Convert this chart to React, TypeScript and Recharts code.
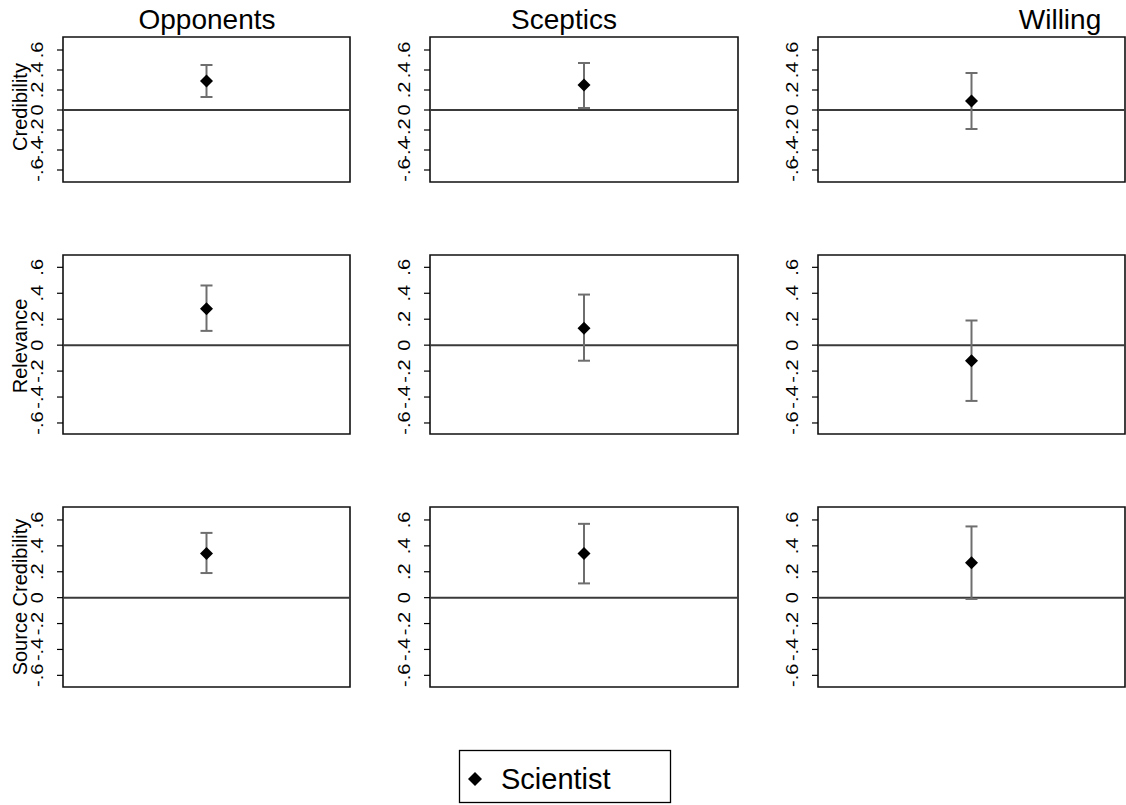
import React from 'react'
import { ScatterChart, Scatter, XAxis, YAxis, ErrorBar, ReferenceLine, ReferenceArea } from 'recharts'

const FONT = "'Liberation Sans', Arial, Helvetica, sans-serif"

const COLUMNS = ['Opponents', 'Sceptics', 'Willing']
const ROWS = ['Credibility', 'Relevance', 'Source Credibility']
const SERIES_NAME = 'Scientist'

// point estimates per outcome, in column order (Opponents, Sceptics, Willing)
const CREDIBILITY = [0.29, 0.25, 0.09]
const RELEVANCE = [0.28, 0.13, -0.12]
const SOURCE_CREDIBILITY = [0.34, 0.34, 0.27]

// confidence interval bounds
const CREDIBILITY_LO = [0.13, 0.02, -0.19]
const CREDIBILITY_HI = [0.45, 0.47, 0.37]
const RELEVANCE_LO = [0.11, -0.12, -0.43]
const RELEVANCE_HI = [0.46, 0.39, 0.19]
const SOURCE_CREDIBILITY_LO = [0.19, 0.11, -0.01]
const SOURCE_CREDIBILITY_HI = [0.50, 0.57, 0.55]

const Y_TICKS = [-0.6, -0.4, -0.2, 0, 0.2, 0.4, 0.6]
const Y_TICK_LABELS = ['-.6', '-.4', '-.2', '0', '.2', '.4', '.6']

const EST = [CREDIBILITY, RELEVANCE, SOURCE_CREDIBILITY]
const LO = [CREDIBILITY_LO, RELEVANCE_LO, SOURCE_CREDIBILITY_LO]
const HI = [CREDIBILITY_HI, RELEVANCE_HI, SOURCE_CREDIBILITY_HI]

// layout of the plot boxes
const COL_BOX = [
  { left: 63, width: 287, title: 207 },
  { left: 430, width: 308, title: 564 },
  { left: 818, width: 307, title: 1060 },
]
const ROW_BOX = [
  { top: 37, height: 145, domain: [-0.72, 0.73], label: 107 },
  { top: 255, height: 179, domain: [-0.685, 0.695], label: 346 },
  { top: 507, height: 180, domain: [-0.69, 0.7], label: 597 },
]
const AXIS_W = 63
const PAD = 3

// vertical text; stata's tick labels come out a bit narrower than Arial
function VText({ x, y, size, squeeze = 1, children }: { x: number; y: number; size: number; squeeze?: number; children: React.ReactNode }) {
  return (
    <text x={0} y={0} textAnchor="middle" transform={`translate(${x}, ${y}) rotate(-90) scale(1, ${squeeze})`}
      fontSize={size} fontFamily={FONT} fill="#000">
      {children}
    </text>
  )
}

function RotTick(props: any) {
  const { x, y, payload } = props
  const i = Y_TICKS.indexOf(payload.value)
  return <VText x={x - 14} y={y} size={20} squeeze={0.85}>{Y_TICK_LABELS[i] ?? payload.value}</VText>
}

function Diamond(props: any) {
  const { cx, cy } = props
  const s = 6.5
  return <polygon points={`${cx},${cy - s} ${cx + s},${cy} ${cx},${cy + s} ${cx - s},${cy}`} fill="#000" />
}

function Panel({ r, c }: { r: number; c: number }) {
  const col = COL_BOX[c]
  const row = ROW_BOX[r]
  const est = EST[r][c]
  const data = [{ x: 1, y: est, err: [est - LO[r][c], HI[r][c] - est] }]
  return (
    <div style={{ position: 'absolute', left: col.left - AXIS_W, top: row.top - PAD }}>
      <ScatterChart width={AXIS_W + col.width + PAD} height={row.height + 2 * PAD}
        margin={{ top: PAD, right: PAD, bottom: PAD, left: 0 }}>
        <XAxis type="number" dataKey="x" domain={[0, 2]} hide />
        <YAxis type="number" dataKey="y" domain={row.domain} allowDataOverflow ticks={Y_TICKS}
          interval={0} width={AXIS_W} tickSize={6} tickMargin={0} axisLine={false}
          tickLine={{ stroke: '#000', strokeWidth: 1.2 }} tick={<RotTick />} />
        <ReferenceArea x1={0} x2={2} y1={row.domain[0]} y2={row.domain[1]} fill="none"
          fillOpacity={0} stroke="#111" strokeWidth={1.6} ifOverflow="visible" />
        <ReferenceLine y={0} stroke="#3a3a3a" strokeWidth={2} />
        <Scatter data={data} fill="#000" isAnimationActive={false} shape={<Diamond />}>
          <ErrorBar dataKey="err" direction="y" width={6} stroke="#6e6e6e" strokeWidth={2} isAnimationActive={false} />
        </Scatter>
      </ScatterChart>
    </div>
  )
}

export default function App() {
  return (
    <div style={{ position: 'absolute', left: 0, top: 0, width: 1126, height: 805, background: '#fff', overflow: 'hidden' }}>
      <svg width={1126} height={805} style={{ position: 'absolute', left: 0, top: 0 }}>
        {COLUMNS.map((t, c) => (
          <text key={t} x={COL_BOX[c].title} y={29} textAnchor="middle" fontSize={28} fontFamily={FONT} fill="#000">{t}</text>
        ))}
        {ROWS.map((t, r) => (
          <VText key={t} x={27} y={ROW_BOX[r].label} size={20}>{t}</VText>
        ))}
        <rect x={459.5} y={750.5} width={211} height={52} fill="#fff" stroke="#000" strokeWidth={1.3} />
        <polygon points="475,772 482,779 475,786 468,779" fill="#000" />
        <text x={501} y={789} fontSize={29} fontFamily={FONT} fill="#000">{SERIES_NAME}</text>
      </svg>
      {ROWS.map((_, r) => COLUMNS.map((__, c) => <Panel key={`${r}-${c}`} r={r} c={c} />))}
    </div>
  )
}
